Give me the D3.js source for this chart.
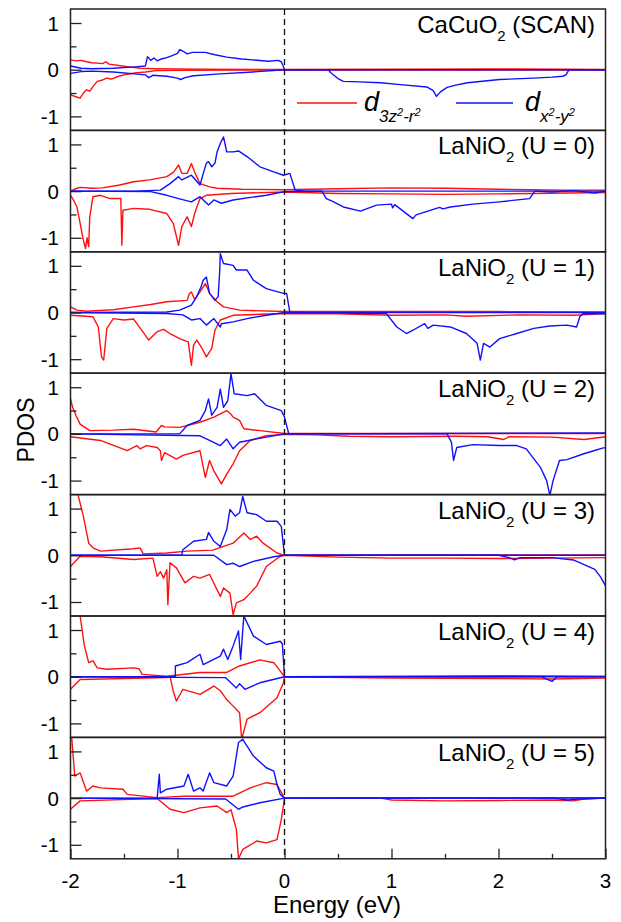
<!DOCTYPE html>
<html>
<head>
<meta charset="utf-8">
<script src="https://cdn.jsdelivr.net/npm/d3@7"></script>
<style>
  body { margin: 0; background: #fff; }
  text { font-family: "Liberation Sans", Arial, sans-serif; fill: #000; }
</style>
</head>
<body>
<div id="chart"></div>
<script>
// panel titles
var formulas = ["CaCuO", "LaNiO", "LaNiO", "LaNiO", "LaNiO", "LaNiO", "LaNiO"];
var conditions = ["(SCAN)", "(U = 0)", "(U = 1)", "(U = 2)", "(U = 3)", "(U = 4)", "(U = 5)"];
var xTicks = [-2, -1, 0, 1, 2, 3];
var yTicks = [-1, 0, 1];

// [energy (eV), PDOS]
var p1RedUp = [[-2,0.21],[-1.95,0.19],[-1.9,0.2],[-1.85,0.17],[-1.8,0.15],[-1.75,0.14],[-1.7,0.13],[-1.67,0.17],[-1.64,0.12],[-1.55,0.09],[-1.45,0.06],[-1.35,0.03],[-1.2,0.02],[-0.8,0.01],[0,0.005],[1,0.01],[2,0.015],[2.6,0.01],[3,0.005]];
var p1RedDown = [[-2,-0.54],[-1.95,-0.58],[-1.91,-0.61],[-1.88,-0.5],[-1.85,-0.43],[-1.82,-0.46],[-1.78,-0.33],[-1.75,-0.25],[-1.7,-0.22],[-1.66,-0.18],[-1.62,-0.2],[-1.55,-0.14],[-1.5,-0.11],[-1.4,-0.07],[-1.3,-0.05],[-1.2,-0.02],[-1,-0.015],[0,-0.005],[3,-0.005]];
var p1BlueUp = [[-2,0.08],[-1.9,0.03],[-1.8,0.02],[-1.6,0.03],[-1.4,0.06],[-1.3,0.08],[-1.28,0.28],[-1.25,0.2],[-1.22,0.25],[-1.19,0.19],[-1.15,0.23],[-1.1,0.26],[-1.05,0.3],[-1,0.35],[-0.98,0.43],[-0.95,0.4],[-0.91,0.34],[-0.86,0.37],[-0.8,0.37],[-0.74,0.37],[-0.65,0.32],[-0.54,0.27],[-0.4,0.23],[-0.3,0.21],[-0.15,0.18],[-0.06,0.2],[-0.03,0.17],[-0.01,0.07],[0,0],[3,0]];
var p1BlueDown = [[-2,-0.08],[-1.9,-0.04],[-1.8,-0.03],[-1.6,-0.05],[-1.4,-0.09],[-1.3,-0.11],[-1.27,-0.17],[-1.23,-0.12],[-1.1,-0.14],[-1,-0.18],[-0.97,-0.21],[-0.93,-0.17],[-0.85,-0.13],[-0.6,-0.09],[-0.3,-0.05],[0,0],[0.41,0],[0.43,-0.06],[0.5,-0.19],[0.55,-0.25],[0.7,-0.26],[0.9,-0.28],[1.08,-0.32],[1.33,-0.37],[1.39,-0.45],[1.42,-0.57],[1.46,-0.47],[1.52,-0.38],[1.6,-0.33],[1.71,-0.28],[2.01,-0.21],[2.33,-0.18],[2.5,-0.16],[2.6,-0.14],[2.63,-0.11],[2.66,0],[3,0]];

var p2RedUp = [[-2,0],[-1.95,0.05],[-1.91,0.08],[-1.8,0.06],[-1.7,0.07],[-1.54,0.13],[-1.41,0.2],[-1.26,0.24],[-1.1,0.31],[-1.04,0.4],[-1.02,0.46],[-0.99,0.56],[-0.96,0.38],[-0.91,0.38],[-0.87,0.59],[-0.84,0.41],[-0.79,0.16],[-0.7,0.09],[-0.63,0.06],[-0.4,0.04],[0,0.03],[0.5,0.05],[1,0.07],[1.5,0.06],[2,0.04],[2.3,0.03],[2.6,0.02],[3,0.02]];
var p2RedDown = [[-2,-0.09],[-1.97,-0.2],[-1.94,-0.34],[-1.91,-0.69],[-1.88,-1.05],[-1.86,-1.23],[-1.845,-1],[-1.83,-1.19],[-1.82,-0.55],[-1.79,-0.12],[-1.72,-0.09],[-1.63,-0.16],[-1.53,-0.16],[-1.52,-1.16],[-1.51,-0.41],[-1.41,-0.37],[-1.26,-0.39],[-1.1,-0.48],[-1.04,-0.69],[-0.99,-1.16],[-0.96,-0.76],[-0.91,-0.55],[-0.87,-0.76],[-0.84,-0.48],[-0.79,-0.16],[-0.73,-0.09],[-0.5,-0.05],[0,-0.02],[0.5,-0.05],[1,-0.06],[1.5,-0.07],[2,-0.06],[2.3,-0.05],[3,-0.03]];
var p2BlueUp = [[-2,0],[-1.4,0],[-1.16,0.02],[-1.07,0.16],[-0.99,0.31],[-0.96,0.24],[-0.87,0.34],[-0.79,0.13],[-0.75,0.45],[-0.73,0.6],[-0.71,0.63],[-0.68,0.52],[-0.65,0.6],[-0.63,0.84],[-0.6,1.02],[-0.57,1.16],[-0.55,0.95],[-0.54,0.84],[-0.48,0.84],[-0.43,0.86],[-0.35,0.74],[-0.23,0.52],[-0.1,0.41],[-0.01,0.34],[0.05,0.38],[0.1,0.02],[0.2,0],[3,0]];
var p2BlueDown = [[-2,0],[-1.25,-0.01],[-1.1,-0.09],[-0.99,-0.16],[-0.87,-0.23],[-0.79,-0.12],[-0.71,-0.3],[-0.66,-0.19],[-0.59,-0.26],[-0.48,-0.19],[-0.3,-0.13],[-0.17,-0.09],[0,-0.01],[0.35,0],[0.39,-0.16],[0.45,-0.22],[0.55,-0.34],[0.71,-0.43],[0.86,-0.3],[1,-0.28],[1.01,-0.36],[1.03,-0.29],[1.2,-0.59],[1.23,-0.51],[1.39,-0.39],[1.45,-0.35],[1.48,-0.38],[1.55,-0.34],[1.76,-0.28],[2.01,-0.23],[2.29,-0.16],[2.34,0],[2.5,-0.02],[2.7,0.01],[2.9,-0.04],[3,0]];

var p3RedUp = [[-2,0.12],[-1.94,0.05],[-1.85,0.03],[-1.6,0.06],[-1.41,0.12],[-1.25,0.17],[-1.1,0.23],[-0.91,0.26],[-0.89,0.4],[-0.87,0.44],[-0.84,0.28],[-0.79,0.44],[-0.76,0.55],[-0.74,0.62],[-0.7,0.41],[-0.63,0.23],[-0.57,0.12],[-0.42,0.05],[0,0.02],[1,0.02],[2,0.02],[3,0.01]];
var p3RedDown = [[-2,-0.06],[-1.79,-0.09],[-1.74,-0.31],[-1.71,-0.95],[-1.69,-1.02],[-1.66,-0.34],[-1.6,-0.13],[-1.5,-0.16],[-1.41,-0.14],[-1.3,-0.49],[-1.27,-0.59],[-1.19,-0.41],[-1.13,-0.36],[-1.07,-0.45],[-0.98,-0.56],[-0.9,-0.63],[-0.87,-1.13],[-0.85,-0.7],[-0.82,-0.59],[-0.77,-0.77],[-0.73,-0.95],[-0.68,-0.77],[-0.65,-0.38],[-0.6,-0.16],[-0.48,-0.06],[0,-0.02],[0.5,-0.03],[1,-0.06],[1.5,-0.05],[1.7,-0.08],[2.2,-0.05],[2.7,-0.06],[3,-0.02]];
var p3BlueUp = [[-2,0],[-1.1,0.01],[-0.98,0.05],[-0.87,0.16],[-0.82,0.34],[-0.78,0.55],[-0.76,0.69],[-0.73,0.76],[-0.7,0.41],[-0.65,0.26],[-0.62,0.34],[-0.605,0.9],[-0.6,1.26],[-0.57,1.05],[-0.48,1.01],[-0.45,0.91],[-0.35,0.91],[-0.29,0.69],[-0.17,0.51],[-0.01,0.41],[0.02,0.41],[0.05,0],[3,0]];
var p3BlueDown = [[-2,0],[-1.1,-0.02],[-0.95,-0.05],[-0.87,-0.16],[-0.79,-0.13],[-0.73,-0.27],[-0.66,-0.13],[-0.6,-0.31],[-0.59,-0.24],[-0.48,-0.2],[-0.35,-0.13],[-0.17,-0.06],[0,0],[0.95,-0.02],[1.05,-0.31],[1.14,-0.45],[1.2,-0.38],[1.31,-0.24],[1.34,-0.34],[1.39,-0.27],[1.55,-0.31],[1.7,-0.45],[1.8,-0.66],[1.83,-1.02],[1.86,-0.66],[1.92,-0.74],[2.01,-0.56],[2.17,-0.45],[2.33,-0.34],[2.48,-0.29],[2.64,-0.27],[2.73,-0.31],[2.76,-0.09],[2.79,-0.02],[3,-0.03]];

var p4RedUp = [[-2,0.75],[-1.98,0.57],[-1.95,0.4],[-1.91,0.21],[-1.82,0.07],[-1.6,0.08],[-1.41,0.1],[-1.2,0.04],[-1.15,0.18],[-1.12,0.15],[-0.98,0.14],[-0.79,0.25],[-0.66,0.36],[-0.54,0.5],[-0.5,0.42],[-0.48,0.36],[-0.42,0.29],[-0.38,0.11],[-0.23,0.07],[0,0.01],[1,0.01],[3,0.01]];
var p4RedDown = [[-2,-0.06],[-1.72,-0.14],[-1.47,-0.36],[-1.38,-0.25],[-1.35,-0.32],[-1.29,-0.25],[-1.19,-0.29],[-1.16,-0.36],[-1.15,-0.57],[-1.12,-0.4],[-1.01,-0.54],[-0.95,-0.46],[-0.79,-0.36],[-0.74,-0.93],[-0.7,-0.57],[-0.66,-0.79],[-0.59,-1.07],[-0.54,-0.86],[-0.48,-0.64],[-0.42,-0.36],[-0.32,-0.14],[-0.17,-0.04],[0,-0.01],[0.3,-0.02],[0.6,-0.05],[1,-0.06],[1.6,-0.05],[1.9,-0.06],[2.05,-0.12],[2.1,-0.06],[2.5,-0.07],[2.8,-0.12],[3,-0.06]];
var p4BlueUp = [[-2,0],[-0.98,0],[-0.91,0.18],[-0.79,0.29],[-0.74,0.5],[-0.71,0.75],[-0.68,0.4],[-0.63,0.57],[-0.6,0.96],[-0.57,0.57],[-0.53,0.71],[-0.5,1.29],[-0.47,0.86],[-0.35,0.82],[-0.28,0.86],[-0.17,0.61],[-0.03,0.5],[0,0.36],[0.04,0],[3,0.02]];
var p4BlueDown = [[-2,0],[-0.79,-0.04],[-0.7,-0.14],[-0.6,-0.25],[-0.54,-0.11],[-0.48,-0.32],[-0.42,-0.18],[-0.29,-0.12],[0,0],[1.52,0],[1.56,-0.18],[1.58,-0.57],[1.61,-0.29],[1.76,-0.23],[2.01,-0.25],[2.17,-0.25],[2.26,-0.32],[2.39,-0.71],[2.45,-1],[2.48,-1.32],[2.51,-1],[2.57,-0.57],[2.64,-0.55],[2.79,-0.43],[2.89,-0.36],[2.98,-0.3],[3,-0.3]];

var p5RedUp = [[-1.95,1.5],[-1.93,1.3],[-1.88,0.84],[-1.83,0.26],[-1.79,0.16],[-1.72,0.09],[-1.41,0.14],[-1.35,0.16],[-1.32,0.03],[-1.1,0.05],[-0.91,0.09],[-0.67,0.11],[-0.48,0.26],[-0.38,0.48],[-0.32,0.34],[-0.26,0.41],[-0.2,0.26],[-0.07,0.05],[0,0],[1,0.01],[2,0.01],[3,0.01]];
var p5RedDown = [[-2,-0.24],[-1.91,-0.02],[-1.72,-0.03],[-1.41,-0.09],[-1.23,-0.06],[-1.19,-0.45],[-1.16,-0.35],[-1.13,-0.49],[-1.1,-0.31],[-1.09,-1.06],[-1.07,-0.16],[-1.01,-0.27],[-0.93,-0.59],[-0.85,-0.45],[-0.79,-0.49],[-0.7,-0.41],[-0.6,-0.88],[-0.57,-0.7],[-0.51,-0.81],[-0.48,-1.27],[-0.45,-1.02],[-0.38,-0.95],[-0.32,-0.81],[-0.26,-0.66],[-0.17,-0.24],[-0.04,-0.02],[0,0],[0.5,-0.04],[1,-0.06],[1.5,-0.06],[2,-0.07],[2.5,-0.06],[3,-0.05]];
var p5BlueUp = [[-2,0],[-0.96,0.01],[-0.95,0.12],[-0.85,0.3],[-0.73,0.34],[-0.71,0.49],[-0.66,0.3],[-0.6,0.19],[-0.54,0.55],[-0.51,0.98],[-0.46,0.84],[-0.42,0.91],[-0.39,1.26],[-0.35,0.91],[-0.26,0.87],[-0.17,0.73],[-0.07,0.73],[-0.03,0.62],[0,0],[3,0]];
var p5BlueDown = [[-2,0],[-0.66,0],[-0.54,-0.2],[-0.48,-0.17],[-0.42,-0.24],[-0.29,-0.13],[-0.1,-0.03],[0,0],[2,0],[2.1,-0.05],[2.15,-0.1],[2.2,-0.05],[2.5,-0.05],[2.7,-0.1],[2.8,-0.2],[2.9,-0.3],[2.95,-0.45],[3,-0.65]];

var p6RedUp = [[-1.92,1.5],[-1.91,1.3],[-1.87,0.66],[-1.83,0.3],[-1.79,0.34],[-1.75,0.19],[-1.66,0.16],[-1.41,0.19],[-1.36,0.17],[-1.33,0.05],[-1.1,0.01],[-0.79,0.09],[-0.54,0.09],[-0.42,0.23],[-0.23,0.36],[-0.1,0.3],[0,0],[1,0.01],[2,0.02],[3,0.01]];
var p6RedDown = [[-2,-0.27],[-1.91,-0.06],[-1.1,-0.02],[-1.07,0],[-1.04,-0.31],[-1.01,-0.52],[-0.95,-0.27],[-0.79,-0.38],[-0.66,-0.2],[-0.6,-0.3],[-0.54,-0.49],[-0.48,-0.63],[-0.42,-0.77],[-0.4,-1.34],[-0.35,-0.91],[-0.23,-0.77],[-0.07,-0.45],[-0.01,-0.13],[0,0],[1,-0.03],[2,-0.04],[2.5,-0.05],[3,-0.03]];
var p6BlueUp = [[-2,0],[-1.02,0],[-1.02,0.23],[-0.91,0.3],[-0.79,0.48],[-0.76,0.26],[-0.6,0.44],[-0.57,0.59],[-0.53,0.37],[-0.48,0.66],[-0.43,0.98],[-0.41,0.37],[-0.38,1.3],[-0.29,0.87],[-0.17,0.69],[-0.04,0.76],[-0.02,0.7],[0,0],[3,0]];
var p6BlueDown = [[-2,0],[-0.55,-0.02],[-0.45,-0.24],[-0.42,-0.15],[-0.37,-0.27],[-0.23,-0.13],[0,0],[2.4,0],[2.5,-0.1],[2.55,0],[3,0]];

var p7RedUp = [[-1.995,1.4],[-1.99,1.33],[-1.96,0.47],[-1.91,0.54],[-1.85,0.15],[-1.79,0.26],[-1.72,0.22],[-1.51,0.19],[-1.47,0.08],[-1.19,0.01],[-0.94,0.04],[-0.48,0.04],[-0.32,0.22],[-0.17,0.33],[-0.07,0.29],[0,0],[1,0.01],[2,0.01],[3,0.01]];
var p7RedDown = [[-2,-0.24],[-1.91,-0.06],[-1.19,-0.01],[-1.07,-0.24],[-0.94,-0.31],[-0.79,-0.21],[-0.63,-0.17],[-0.54,-0.31],[-0.5,-0.25],[-0.45,-0.67],[-0.43,-1.3],[-0.39,-1.1],[-0.26,-0.92],[-0.17,-0.96],[-0.07,-0.89],[-0.03,-0.46],[0,0],[0.9,0],[1,-0.04],[1.5,-0.06],[2,-0.05],[2.5,-0.04],[2.7,-0.06],[2.8,-0.02],[3,0]];
var p7BlueUp = [[-2,0],[-1.19,0],[-1.17,0.51],[-1.16,0.11],[-1.1,0.19],[-0.94,0.26],[-0.9,0.51],[-0.85,0.15],[-0.79,0.22],[-0.76,0.15],[-0.7,0.54],[-0.66,0.33],[-0.54,0.26],[-0.48,0.47],[-0.43,1.19],[-0.39,1.26],[-0.29,0.9],[-0.17,0.65],[-0.1,0.58],[-0.07,0.29],[-0.04,0.08],[0,0],[3,0]];
var p7BlueDown = [[-2,0],[-0.55,-0.02],[-0.43,-0.24],[-0.39,-0.19],[-0.23,-0.1],[0,0],[2.5,0],[2.65,-0.04],[2.75,-0.02],[3,0]];

var redSets = [[p1RedUp, p1RedDown], [p2RedUp, p2RedDown], [p3RedUp, p3RedDown], [p4RedUp, p4RedDown], [p5RedUp, p5RedDown], [p6RedUp, p6RedDown], [p7RedUp, p7RedDown]];
var blueSets = [[p1BlueUp, p1BlueDown], [p2BlueUp, p2BlueDown], [p3BlueUp, p3BlueDown], [p4BlueUp, p4BlueDown], [p5BlueUp, p5BlueDown], [p6BlueUp, p6BlueDown], [p7BlueUp, p7BlueDown]];

var W = 621, H = 922;
var plotLeft = 70.5, plotRight = 605.5, plotTop = 9, panelH = 121.4;
var nPanels = formulas.length;

var svg = d3.select("#chart").append("svg").attr("width", W).attr("height", H);

var x = d3.scaleLinear().domain([-2, 3]).range([plotLeft, plotRight]);

function styleTicks(a) {
  a.select(".domain").remove();
  a.selectAll("line").attr("stroke", "#222").attr("stroke-width", 1.3);
}

function drawPanel(i) {
  var y0 = plotTop + i * panelH;
  var y = d3.scaleLinear().domain([-1.3, 1.3]).range([y0 + panelH, y0]);
  var line = d3.line().x(function(d) { return x(d[0]); }).y(function(d) { return y(d[1]); });
  var g = svg.append("g");

  svg.append("clipPath").attr("id", "clip" + i)
    .append("rect").attr("x", plotLeft).attr("y", y0).attr("width", plotRight - plotLeft).attr("height", panelH);

  var curves = g.append("g").attr("clip-path", "url(#clip" + i + ")");
  redSets[i].forEach(function(s) {
    curves.append("path").attr("d", line(s)).attr("fill", "none")
      .attr("stroke", "#ff1010").attr("stroke-width", 1.4).attr("stroke-linejoin", "round");
  });
  blueSets[i].forEach(function(s) {
    curves.append("path").attr("d", line(s)).attr("fill", "none")
      .attr("stroke", "#1010ff").attr("stroke-width", 1.4).attr("stroke-linejoin", "round");
  });

  // y ticks point inward
  g.append("g").attr("transform", "translate(" + plotLeft + ",0)")
    .call(d3.axisRight(y).tickValues(yTicks).tickSize(11).tickFormat("")).call(styleTicks);
  g.append("g").attr("transform", "translate(" + plotLeft + ",0)")
    .call(d3.axisRight(y).tickValues([-0.5, 0.5]).tickSize(6).tickFormat("")).call(styleTicks);

  yTicks.forEach(function(t) {
    g.append("text").attr("x", 59).attr("y", y(t) + 7.5).attr("text-anchor", "end")
      .attr("font-size", 20.5).text(t < 0 ? "-" + Math.abs(t) : t);
  });

  g.append("rect").attr("x", plotLeft).attr("y", y0).attr("width", plotRight - plotLeft).attr("height", panelH)
    .attr("fill", "none").attr("stroke", "#222").attr("stroke-width", 1.5);

  var tt = g.append("text").attr("x", 595).attr("y", y0 + 24).attr("text-anchor", "end").attr("font-size", 24);
  tt.append("tspan").text(formulas[i]);
  tt.append("tspan").attr("font-size", 15).attr("dy", 8).text("2");
  tt.append("tspan").attr("dy", -8).text(" " + conditions[i]);
}

for (var i = 0; i < nPanels; i++) drawPanel(i);

var plotBottom = plotTop + nPanels * panelH;

// Fermi level
svg.append("line").attr("x1", x(0)).attr("x2", x(0)).attr("y1", plotTop).attr("y2", plotBottom)
  .attr("stroke", "#111").attr("stroke-width", 1.3).attr("stroke-dasharray", "6,4");

svg.append("g").attr("transform", "translate(0," + plotBottom + ")")
  .call(d3.axisTop(x).tickValues(xTicks).tickSize(10).tickFormat("")).call(styleTicks);
svg.append("g").attr("transform", "translate(0," + plotBottom + ")")
  .call(d3.axisTop(x).tickValues([-1.5, -0.5, 0.5, 1.5, 2.5]).tickSize(5).tickFormat("")).call(styleTicks);

xTicks.forEach(function(t) {
  svg.append("text").attr("x", x(t)).attr("y", 888).attr("text-anchor", "middle")
    .attr("font-size", 20.5).text(t < 0 ? "-" + Math.abs(t) : t);
});

svg.append("text").attr("x", 337).attr("y", 913).attr("text-anchor", "middle")
  .attr("font-size", 24).text("Energy (eV)");
svg.append("text").attr("transform", "translate(34,430) rotate(-90)").attr("text-anchor", "middle")
  .attr("font-size", 23).text("PDOS");

// legend
var legY = 103;
svg.append("line").attr("x1", 297).attr("x2", 357).attr("y1", legY).attr("y2", legY)
  .attr("stroke", "#ff1010").attr("stroke-width", 1.4);
svg.append("line").attr("x1", 456).attr("x2", 513).attr("y1", legY).attr("y2", legY)
  .attr("stroke", "#1010ff").attr("stroke-width", 1.4);

function legendLabel(xp, parts) {
  var t = svg.append("text").attr("x", xp).attr("y", 111).attr("font-style", "italic").attr("font-size", 27);
  t.append("tspan").text("d");
  parts.forEach(function(p) {
    t.append("tspan").attr("font-size", p.sup ? 11 : 17).attr("dy", p.dy).text(p.s);
  });
}
legendLabel(364, [{s: "3z", dy: 11}, {s: "2", dy: -6, sup: true}, {s: "-r", dy: 6}, {s: "2", dy: -6, sup: true}]);
legendLabel(525, [{s: "x", dy: 11}, {s: "2", dy: -6, sup: true}, {s: "-y", dy: 6}, {s: "2", dy: -6, sup: true}]);
</script>
</body>
</html>
